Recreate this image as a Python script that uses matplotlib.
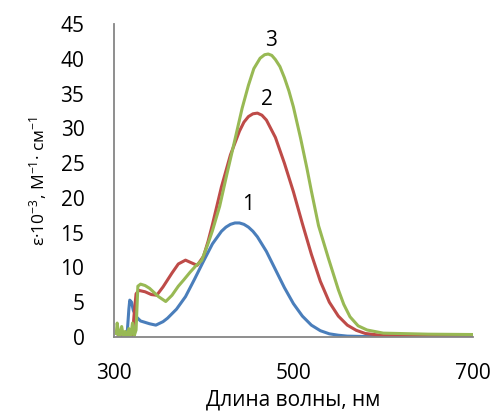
import matplotlib.pyplot as plt

plt.rcParams['font.family'] = ['Open Sans', 'DejaVu Sans']
plt.rcParams['mathtext.fontset'] = 'custom'
plt.rcParams['mathtext.rm'] = 'Open Sans'
plt.rcParams['mathtext.default'] = 'regular'

# spectrum 1 (blue)
wl1 = [305, 312, 315, 317, 318, 320, 322, 326, 330, 340, 347, 355, 360, 370, 380, 390,
       400, 410, 420, 425, 430, 435, 440, 445, 450, 455, 460, 470, 480, 490, 500, 510,
       520, 530, 540, 550, 560, 580, 700]
eps1 = [0.0, 0.0, 0.3, 4.0, 5.3, 5.0, 3.8, 2.8, 2.3, 1.9, 1.7, 2.2, 2.7, 4.0, 5.8, 8.3,
        10.9, 13.4, 15.2, 15.8, 16.2, 16.4, 16.4, 16.2, 15.8, 15.2, 14.4, 12.3, 9.7, 7.1, 4.8, 3.0,
        1.7, 0.9, 0.45, 0.25, 0.12, 0.06, 0.05]

# spectrum 2 (red)
wl2 = [305, 318, 321, 323, 325, 328, 335, 342, 348, 355, 365, 372, 380, 386, 393, 400,
       405, 410, 415, 420, 430, 440, 445, 450, 455, 460, 465, 470, 480, 490, 500, 510,
       520, 530, 540, 550, 560, 570, 580, 600, 700]
eps2 = [0.0, 0.0, 0.3, 3.5, 6.2, 6.7, 6.5, 6.1, 6.0, 7.2, 9.2, 10.5, 11.05, 10.7, 10.3, 11.6,
        13.7, 16.2, 18.9, 21.6, 26.2, 29.6, 30.9, 31.7, 32.1, 32.2, 31.9, 31.2, 28.7, 25.0, 20.9, 16.3,
        11.9, 8.0, 5.0, 3.0, 1.7, 0.95, 0.5, 0.2, 0.1]

# spectrum 3 (green)
wl3 = [303, 304, 306, 307, 309, 311, 313, 315, 317, 319, 321, 323, 325, 327, 330,
       335, 340, 350, 358, 365, 372, 378, 385, 392, 398, 405, 410, 418, 426, 435,
       443, 450, 456, 463, 468, 472, 476, 480, 485, 490, 495, 500, 508, 515, 520,
       528, 539, 550, 556, 563, 572, 582, 600, 650, 700]
eps3 = [0.5, 2.0, 0.0, 0.3, 1.5, 0.0, 0.8, 0.0, 1.2, 0.0, 2.0, 0.2, 1.0, 7.3, 7.6,
        7.4, 7.0, 5.8, 5.1, 6.0, 7.3, 8.2, 9.3, 10.3, 11.0, 13.4, 15.3, 18.8, 23.4, 28.4,
        32.9, 36.2, 38.6, 40.1, 40.6, 40.7, 40.5, 39.9, 38.9, 37.3, 35.4, 33.1, 28.6, 24.3, 21.0,
        16.0, 11.3, 6.8, 4.7, 2.9, 1.6, 1.0, 0.55, 0.4, 0.35]

# curve labels: text, wavelength, epsilon
labels = [('1', 450, 19.0), ('2', 471, 34.2), ('3', 475, 42.6)]

fig = plt.figure(figsize=(4.96, 4.16), dpi=100)
ax = fig.add_axes([0.229, 0.19, 0.725, 0.752])

ax.plot(wl1, eps1, color='#4A7EBB', lw=2.2)
ax.plot(wl2, eps2, color='#BE4B48', lw=2.2)
ax.plot(wl3, eps3, color='#98B954', lw=2.2)

for txt, x, y in labels:
    ax.text(x, y, txt, fontsize=15, ha='center', va='center')

ax.set_xlim(300, 700)
ax.set_ylim(0, 45)
ax.set_xticks([300, 500, 700])
ax.set_yticks(range(0, 46, 5))
ax.tick_params(length=0, labelsize=15)
ax.tick_params(axis='x', pad=19)
ax.tick_params(axis='y', pad=21)

for s in ['top', 'right']:
    ax.spines[s].set_visible(False)
for s in ['left', 'bottom']:
    ax.spines[s].set_color('#868686')
    ax.spines[s].set_linewidth(1.3)

ax.set_xlabel('Длина волны, нм', fontsize=15, labelpad=4)
ax.set_ylabel(r'ε·10$^{-3}$, М$^{-1}$· см$^{-1}$', fontsize=12.5, labelpad=8)

fig.savefig('out.png', dpi=100)
